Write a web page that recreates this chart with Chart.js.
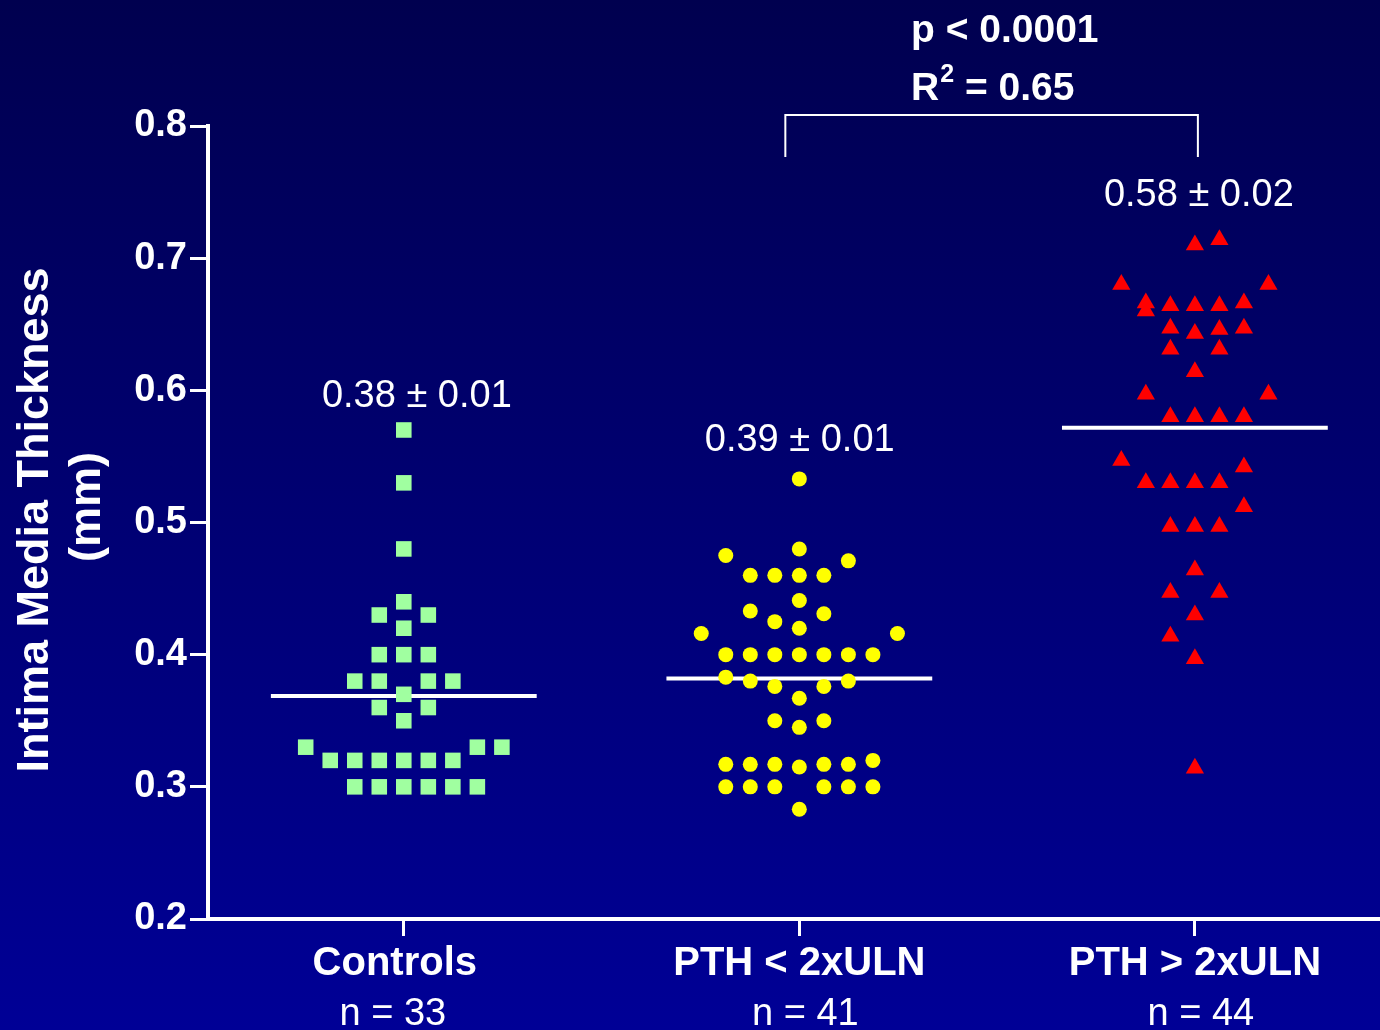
<!DOCTYPE html>
<html>
<head>
<meta charset="utf-8">
<title>Intima Media Thickness</title>
<script src="https://cdn.jsdelivr.net/npm/chart.js@4.4.1/dist/chart.umd.min.js"></script>
<style>
  html, body { margin: 0; padding: 0; background: #000070; }
  #wrap { width: 1380px; height: 1030px; }
</style>
</head>
<body>
<div id="wrap"><canvas id="imtChart" width="1380" height="1030"></canvas></div>
<script>
// Groups and axis
const categories = ['Controls', 'PTH < 2xULN', 'PTH > 2xULN'];
const groupSizes = ['n = 33', 'n = 41', 'n = 44'];
const meanLabels = ['0.38 \u00b1 0.01', '0.39 \u00b1 0.01', '0.58 \u00b1 0.02'];
const yTicks = [0.2, 0.3, 0.4, 0.5, 0.6, 0.7, 0.8];

// IMT per subject (mm) and the column each symbol sits in (0 = group centre)
const controlsIMT = [0.57, 0.53, 0.48, 0.44, 0.43, 0.43, 0.42, 0.40, 0.40, 0.40,
    0.38, 0.38, 0.38, 0.38, 0.37, 0.36, 0.36, 0.35, 0.33, 0.33, 0.33,
    0.32, 0.32, 0.32, 0.32, 0.32, 0.32, 0.30, 0.30, 0.30, 0.30, 0.30, 0.30];
const controlsSlot = [0, 0, 0, 0, -1, 1, 0, -1, 0, 1,
    -2, -1, 1, 2, 0, -1, 1, 0, -4, 3, 4,
    -3, -2, -1, 0, 1, 2, -2, -1, 0, 1, 2, 3];

const lowPthIMT = [0.533, 0.475, 0.480, 0.471, 0.460, 0.460, 0.460, 0.460, 0.441, 0.433,
    0.431, 0.425, 0.420, 0.416, 0.416, 0.400, 0.400, 0.400, 0.400, 0.400, 0.400, 0.400,
    0.383, 0.380, 0.380, 0.376, 0.376, 0.367, 0.350, 0.350, 0.345, 0.320,
    0.317, 0.317, 0.317, 0.317, 0.317, 0.315, 0.300, 0.300, 0.300, 0.300, 0.300, 0.300, 0.283];
const lowPthSlot = [0, -3, 0, 2, -2, -1, 0, 1, 0, -2,
    1, -1, 0, -4, 4, -3, -2, -1, 0, 1, 2, 3,
    -3, -2, 2, -1, 1, 0, -1, 1, 0, 3,
    -3, -2, -1, 1, 2, 0, -3, -2, -1, 1, 2, 3, 0];

const highPthIMT = [0.714, 0.710, 0.680, 0.680, 0.666, 0.660, 0.664, 0.664, 0.664, 0.666,
    0.647, 0.643, 0.646, 0.647, 0.631, 0.631, 0.614, 0.597, 0.597,
    0.580, 0.580, 0.580, 0.580, 0.547, 0.542, 0.530, 0.530, 0.530, 0.530,
    0.512, 0.497, 0.497, 0.497, 0.464, 0.447, 0.447, 0.430, 0.414, 0.397, 0.314];
const highPthSlot = [1, 0, -3, 3, -2, -2, -1, 0, 1, 2,
    -1, 0, 1, 2, -1, 1, 0, -2, 3,
    -1, 0, 1, 2, -3, 2, -2, -1, 0, 1,
    2, -1, 0, 1, 0, -1, 1, 0, -1, 0, 0];

const FONT = '"Liberation Sans", Arial, Helvetica, sans-serif';
const SLOT = 0.062;       // width of one symbol column, in x units
const MEAN_HALF = 0.336;  // half length of the mean bar

function toPoints(group, slots, values) {
    return values.map((v, i) => ({ x: group + slots[i] * SLOT, y: v }));
}

function mean(values) {
    return values.reduce((s, v) => s + v, 0) / values.length;
}

function meanBar(group, values) {
    const m = mean(values);
    return [{ x: group - MEAN_HALF, y: m }, { x: group + MEAN_HALF, y: m }];
}

function symbolSet(data, style, radius, color) {
    return {
        type: 'scatter',
        data: data,
        pointStyle: style,
        pointRadius: radius,
        pointHoverRadius: radius,
        pointBackgroundColor: color,
        backgroundColor: color,
        pointBorderWidth: 0,
        borderWidth: 0,
        order: 0
    };
}

function meanSet(data) {
    return {
        type: 'line',
        data: data,
        borderColor: '#ffffff',
        borderWidth: 4,
        pointRadius: 0,
        showLine: true,
        fill: false,
        order: 1
    };
}

// dark navy backdrop, lighter towards the bottom
const backdrop = {
    id: 'backdrop',
    beforeDraw(chart) {
        const ctx = chart.ctx;
        const g = ctx.createLinearGradient(0, 0, 0, chart.height);
        g.addColorStop(0, '#00004f');
        g.addColorStop(1, '#000096');
        ctx.save();
        ctx.fillStyle = g;
        ctx.fillRect(0, 0, chart.width, chart.height);
        ctx.restore();
    }
};

// group names, mean labels, significance bracket and y title
const annotations = {
    id: 'annotations',
    afterDraw(chart) {
        const ctx = chart.ctx;
        const xs = chart.scales.x;
        const ys = chart.scales.y;
        const area = chart.chartArea;
        ctx.save();
        ctx.fillStyle = '#ffffff';
        ctx.strokeStyle = '#ffffff';
        ctx.textAlign = 'center';
        ctx.textBaseline = 'alphabetic';

        categories.forEach((c, i) => {
            const px = xs.getPixelForValue(i + 1);
            ctx.font = 'bold 40px ' + FONT;
            ctx.fillText(c, px - (i === 0 ? 9 : 0), 975);
            ctx.font = '38px ' + FONT;
            ctx.fillText(groupSizes[i], px + (i === 0 ? -11 : 6), 1025);
        });

        // mean ± SEM above each group
        const labelAt = [[1.033, 0.5874], [2.001, 0.5541], [3.01, 0.7395]];
        ctx.font = '38px ' + FONT;
        meanLabels.forEach((t, i) => {
            ctx.fillText(t, xs.getPixelForValue(labelAt[i][0]), ys.getPixelForValue(labelAt[i][1]));
        });

        // bracket between the two PTH groups
        const bx1 = xs.getPixelForValue(2) - 14;
        const bx2 = xs.getPixelForValue(3) + 3;
        const top = area.top - 11;
        const foot = area.top + 31;
        ctx.lineWidth = 2;
        ctx.beginPath();
        ctx.moveTo(bx1, foot);
        ctx.lineTo(bx1, top);
        ctx.lineTo(bx2, top);
        ctx.lineTo(bx2, foot);
        ctx.stroke();

        ctx.textAlign = 'left';
        ctx.font = 'bold 39px ' + FONT;
        ctx.fillText('p < 0.0001', 911, 42);
        ctx.fillText('R', 911, 100);
        const rw = ctx.measureText('R').width;
        ctx.font = 'bold 25px ' + FONT;
        ctx.fillText('2', 911 + rw + 1, 82);
        const sw = ctx.measureText('2').width;
        ctx.font = 'bold 39px ' + FONT;
        ctx.fillText(' = 0.65', 911 + rw + sw + 1, 100);

        // rotated y title, two lines
        ctx.font = 'bold 45px ' + FONT;
        ctx.textAlign = 'center';
        ctx.save();
        ctx.translate(48, 520);
        ctx.rotate(-Math.PI / 2);
        ctx.fillText('Intima Media Thickness', 0, 0);
        ctx.restore();
        ctx.save();
        ctx.translate(100, 507);
        ctx.rotate(-Math.PI / 2);
        ctx.fillText('(mm)', 0, 0);
        ctx.restore();

        ctx.restore();
    }
};

new Chart(document.getElementById('imtChart'), {
    type: 'scatter',
    data: {
        datasets: [
            symbolSet(toPoints(1, controlsSlot, controlsIMT), 'rect', 11, '#a0ffa0'),
            symbolSet(toPoints(2, lowPthSlot, lowPthIMT), 'circle', 7.5, '#ffff00'),
            symbolSet(toPoints(3, highPthSlot, highPthIMT), 'triangle', 10.5, '#ff0000'),
            meanSet(meanBar(1, controlsIMT)),
            meanSet(meanBar(2, lowPthIMT)),
            meanSet(meanBar(3, highPthIMT))
        ]
    },
    options: {
        responsive: false,
        animation: false,
        layout: { autoPadding: false, padding: { top: 126, left: 0, right: 0, bottom: 0 } },
        plugins: {
            legend: { display: false },
            tooltip: { enabled: false }
        },
        scales: {
            x: {
                type: 'linear',
                min: 0.505,
                max: 3.468,
                afterBuildTicks: s => { s.ticks = categories.map((c, i) => ({ value: i + 1 })); },
                afterFit: s => { s.height = 111; },
                ticks: { display: false },
                grid: { drawOnChartArea: false, drawTicks: true, tickLength: 17, color: '#ffffff', lineWidth: 3 },
                border: { display: true, color: '#ffffff', width: 4 }
            },
            y: {
                type: 'linear',
                min: 0.2,
                max: 0.8,
                afterBuildTicks: s => { s.ticks = yTicks.map(v => ({ value: v })); },
                afterFit: s => { s.width = 208; },
                ticks: {
                    color: '#ffffff',
                    padding: 3,
                    font: { family: FONT, size: 38, weight: 'bold' },
                    callback: v => Number(v).toFixed(1)
                },
                grid: { drawOnChartArea: false, drawTicks: true, tickLength: 18, color: '#ffffff', lineWidth: 3 },
                border: { display: true, color: '#ffffff', width: 4 }
            }
        }
    },
    plugins: [backdrop, annotations]
});
</script>
</body>
</html>
